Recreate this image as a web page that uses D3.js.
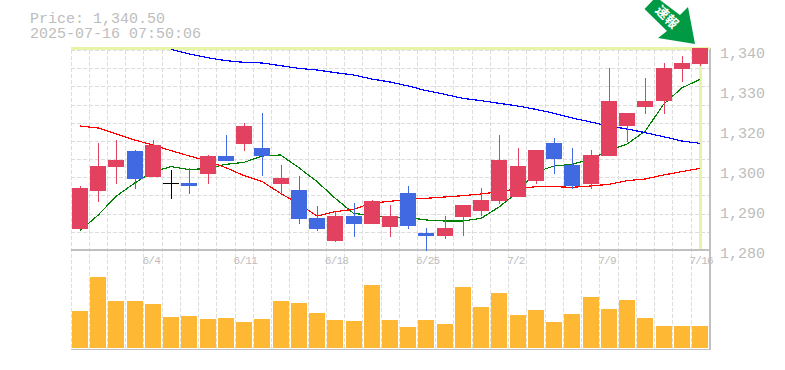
<!DOCTYPE html>
<html>
<head>
<meta charset="utf-8">
<script src="https://cdnjs.cloudflare.com/ajax/libs/d3/7.8.5/d3.min.js"></script>
<style>
	html, body { margin: 0; padding: 0; background: #fff; }
	svg { display: block; }
	text { font-family: 'Liberation Mono', monospace; fill: #bdbdbd; }
	.grid line { stroke: #dddddd; stroke-width: 1; stroke-dasharray: 4 2; shape-rendering: crispEdges; }
	.frame line { stroke: #c0c0c0; stroke-width: 1.5; shape-rendering: crispEdges; }
	.marker line { stroke: #e6f5a8; stroke-width: 3; shape-rendering: crispEdges; }
	.ma { fill: none; stroke-width: 1.2; shape-rendering: crispEdges; }
	.candle line, .candle rect, .volume rect { shape-rendering: crispEdges; }
</style>
</head>
<body>
<script>
var dates = ['5/29', '5/30', '6/2', '6/3', '6/4', '6/5', '6/6', '6/9', '6/10', '6/11', '6/12', '6/13', '6/16', '6/17', '6/18', '6/19', '6/20', '6/23', '6/24', '6/25', '6/26', '6/27', '6/30', '7/1', '7/2', '7/3', '7/4', '7/7', '7/8', '7/9', '7/10', '7/11', '7/14', '7/15', '7/16'];
var dateTicks = ['6/4', '6/11', '6/18', '6/25', '7/2', '7/9', '7/16'];
var priceTicks = [1340, 1330, 1320, 1300, 1290, 1280];

var opens = [1286.4, 1297.8, 1305, 1309.7, 1302, 1300, 1300.1, 1302.9, 1308.2, 1311.9, 1310.6, 1299.9, 1298, 1289.6, 1282.8, 1290.2, 1287.9, 1287, 1297.1, 1285.1, 1284.3, 1290, 1291.8, 1294.8, 1296, 1300.8, 1312.1, 1305.5, 1299.9, 1308.3, 1317.2, 1322.9, 1324.7, 1334.3, 1335.8];
var closes = [1298.6, 1305.2, 1307, 1301.4, 1311.5, 1300, 1299.3, 1308.2, 1306.8, 1317.2, 1308.3, 1301.6, 1289.4, 1286.4, 1290.2, 1287.9, 1294.7, 1290.2, 1287.3, 1284.3, 1286.6, 1293.5, 1295, 1307, 1305.2, 1310, 1307.4, 1299.3, 1308.5, 1324.7, 1321.1, 1324.7, 1334.6, 1336.1, 1340.5];
var highs = [1299.2, 1312.1, 1313, 1310, 1313, 1304, 1304.5, 1308.5, 1314.5, 1318.1, 1321.1, 1305.5, 1302.2, 1293.2, 1291.4, 1294.1, 1295, 1293.5, 1299.2, 1286.6, 1290.2, 1293.5, 1298.6, 1314.5, 1310.6, 1310, 1313.6, 1310.6, 1310, 1334.5, 1321.1, 1331.6, 1336.1, 1338.2, 1340.5];
var lows = [1286.2, 1294.5, 1299.9, 1298.4, 1302, 1295.4, 1296.9, 1299.9, 1306.8, 1309.8, 1302.3, 1296.9, 1287.9, 1285.8, 1282.5, 1284, 1287.9, 1284, 1286.4, 1279.8, 1283.4, 1284.3, 1290.2, 1293.9, 1296, 1299.9, 1302.9, 1298.4, 1298.4, 1308.3, 1312.4, 1320.8, 1320.8, 1330.4, 1335.2];
var volumes = [37, 71, 47, 47, 44, 31, 32, 29, 30, 26, 29, 47, 45, 35, 28, 27, 63, 28, 21, 28, 24, 61, 41, 55, 33, 38, 26, 34, 51, 39, 48, 30, 22, 22, 22];

var maShort = [1285.8, 1290.5, 1296.2, 1300.1, 1303.5, 1305, 1304.1, 1304.5, 1305.7, 1306.3, 1308.2, 1308.5, 1304.7, 1300.5, 1295.5, 1291, 1290.3, 1289.9, 1289.7, 1289, 1288.7, 1288.7, 1289.5, 1293, 1297.4, 1303.4, 1305.2, 1305.7, 1307.3, 1309.8, 1311.8, 1315.7, 1323.7, 1328.6, 1331.2];
var maMid = [1317.2, 1316.6, 1314.8, 1313, 1311.5, 1309.8, 1308.2, 1306.7, 1304.7, 1302.3, 1300.5, 1297, 1293.8, 1290.2, 1291.5, 1292.2, 1294.1, 1294.6, 1295.2, 1295.5, 1295.9, 1296.3, 1296.8, 1297.5, 1298.4, 1299, 1299, 1298.8, 1299.2, 1299.7, 1300.8, 1301.3, 1302.5, 1303.5, 1304.5];
var maLong = [null, null, null, null, null, 1340.2, 1338.8, 1337.7, 1336.8, 1336.3, 1336.1, 1335.3, 1334.5, 1334, 1333.2, 1332.5, 1331.3, 1330.4, 1329.2, 1327.8, 1326.7, 1325.5, 1324.8, 1324, 1323.2, 1322.2, 1321, 1319.6, 1318.4, 1317.2, 1316.3, 1315.2, 1314, 1312.7, 1312];

var lastPrice = 1340.5;
var priceLabel = 'Price: 1,340.50';
var timeLabel = '2025-07-16 07:50:06';

var width = 785;
var height = 370;
var left = 70.5;
var right = 710;
var bodyWidth = 16;
var upColor = '#e2425f';
var downColor = '#4169e1';

var svg;
var xScale;
var yScale;
var volumeScale;

function setupScales() {
	xScale = d3.scalePoint()
		.domain(dates)
		.range([80, 700]);

	yScale = d3.scaleLinear()
		.domain([1280, 1340.6])
		.range([250, 48]);

	volumeScale = d3.scaleLinear()
		.domain([0, 98])
		.range([348, 250]);
}

function drawGrid() {
	var grid = svg.append('g').attr('class', 'grid');
	var step = xScale.step();

	grid.selectAll('.v')
		.data(dates.concat(['end']))
		.enter()
		.append('line')
		.attr('class', 'v')
		.attr('x1', function(d, i) { return Math.round(80 + i * step - 9.5) + 0.5; })
		.attr('x2', function(d, i) { return Math.round(80 + i * step - 9.5) + 0.5; })
		.attr('y1', 50)
		.attr('y2', 350);

	grid.selectAll('.h')
		.data(d3.range(1, 12))
		.enter()
		.append('line')
		.attr('class', 'h')
		.attr('x1', left)
		.attr('x2', right)
		.attr('y1', function(d) { return Math.round(250 - d * 200 / 11) + 0.5; })
		.attr('y2', function(d) { return Math.round(250 - d * 200 / 11) + 0.5; });
}

function drawFrame() {
	var frame = svg.append('g').attr('class', 'frame');
	[[left, 250, right, 250], [left, 349.5, right, 349.5], [right, 48, right, 350]].forEach(function(l) {
		frame.append('line')
			.attr('x1', l[0]).attr('y1', l[1])
			.attr('x2', l[2]).attr('y2', l[3]);
	});

	// pale marker for the latest price and date
	var marker = svg.append('g').attr('class', 'marker');
	marker.append('line')
		.attr('x1', left).attr('x2', right)
		.attr('y1', yScale(lastPrice)).attr('y2', yScale(lastPrice));
	marker.append('line')
		.attr('x1', xScale(dates[dates.length - 1]) + 0.5).attr('x2', xScale(dates[dates.length - 1]) + 0.5)
		.attr('y1', 48).attr('y2', 249);
}

function drawAverage(values, color) {
	var line = d3.line()
		.defined(function(d) { return d !== null; })
		.x(function(d, i) { return xScale(dates[i]); })
		.y(function(d) { return yScale(d); });

	svg.append('path')
		.attr('class', 'ma')
		.attr('stroke', color)
		.attr('d', line(values));
}

function candleColor(i) {
	if (closes[i] > opens[i]) return upColor;
	if (closes[i] < opens[i]) return downColor;
	return '#000';
}

function drawCandles() {
	var candles = svg.append('g').attr('class', 'candle')
		.selectAll('g')
		.data(dates)
		.enter()
		.append('g');

	candles.append('line')
		.attr('x1', function(d) { return Math.round(xScale(d)) + 0.5; })
		.attr('x2', function(d) { return Math.round(xScale(d)) + 0.5; })
		.attr('y1', function(d, i) { return yScale(highs[i]); })
		.attr('y2', function(d, i) { return yScale(lows[i]); })
		.attr('stroke', function(d, i) { return candleColor(i); });

	candles.append('rect')
		.attr('x', function(d) { return Math.round(xScale(d) - bodyWidth / 2); })
		.attr('width', bodyWidth)
		.attr('y', function(d, i) { return yScale(Math.max(opens[i], closes[i])); })
		.attr('height', function(d, i) { return Math.max(1, Math.abs(yScale(opens[i]) - yScale(closes[i]))); })
		.attr('fill', function(d, i) { return candleColor(i); });
}

function drawVolumes() {
	svg.append('g').attr('class', 'volume')
		.selectAll('rect')
		.data(volumes)
		.enter()
		.append('rect')
		.attr('x', function(d, i) { return Math.round(xScale(dates[i]) - bodyWidth / 2); })
		.attr('width', bodyWidth)
		.attr('y', function(d) { return volumeScale(d); })
		.attr('height', function(d) { return volumeScale(0) - volumeScale(d); })
		.attr('fill', '#ffb833');
}

function drawAxes() {
	var priceAxisScale = d3.scalePoint()
		.domain(priceTicks)
		.range([53, 253]);

	var priceAxis = svg.append('g')
		.attr('transform', 'translate(720,0)')
		.call(d3.axisRight(priceAxisScale).tickSize(0).tickPadding(0).tickFormat(d3.format(',')));
	priceAxis.select('.domain').remove();
	priceAxis.selectAll('text')
		.style('font-size', '15px')
		.style('font-family', "'Liberation Mono', monospace");

	var dateAxis = svg.append('g')
		.attr('transform', 'translate(-11,256)')
		.call(d3.axisBottom(xScale).tickValues(dateTicks).tickSize(0).tickPadding(0));
	dateAxis.select('.domain').remove();
	dateAxis.selectAll('text')
		.attr('text-anchor', 'start')
		.style('font-size', '11px')
		.style('letter-spacing', '-0.75px')
		.style('font-family', "'Liberation Mono', monospace");
}

function drawHeader() {
	svg.append('text').text(priceLabel)
		.attr('x', 30).attr('y', 23)
		.attr('font-size', 15);
	svg.append('text').text(timeLabel)
		.attr('x', 30).attr('y', 38)
		.attr('font-size', 15);
}

function drawBadge() {
	svg.append('path')
		.attr('d', 'M644.5,9 L656,-3 L680,15 L688,7 L695,44 L658,38 L667,31 Z')
		.attr('fill', '#009a44');

	svg.append('text').text('速報')
		.attr('transform', 'translate(667,17) rotate(45)')
		.attr('text-anchor', 'middle')
		.attr('dy', '0.36em')
		.attr('font-size', 13)
		.attr('font-weight', 'bold')
		.style('fill', '#fff')
		.style('font-family', "'Noto Sans CJK JP', sans-serif");
}

function drawChart() {
	svg = d3.select('body').append('svg')
		.attr('width', width)
		.attr('height', height);

	setupScales();
	drawGrid();
	drawFrame();
	drawAverage(maShort, '#008000');
	drawAverage(maMid, '#ff0000');
	drawAverage(maLong, '#0000ff');
	drawCandles();
	drawVolumes();
	drawAxes();
	drawHeader();
	drawBadge();
}

window.onload = drawChart;
</script>
</body>
</html>
